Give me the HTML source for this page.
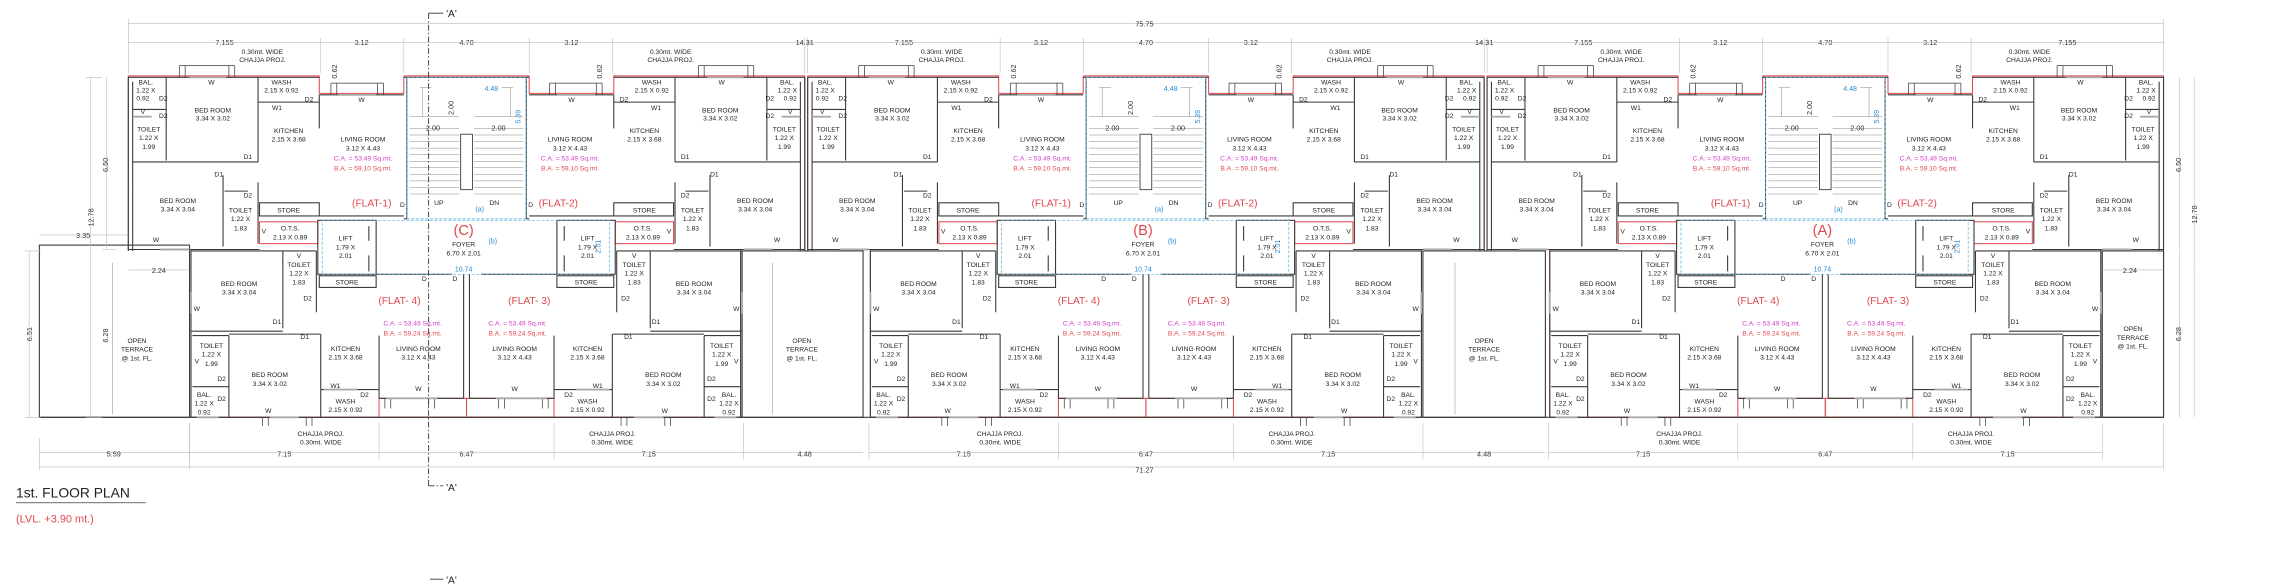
<!DOCTYPE html>
<html><head><meta charset="utf-8">
<style>
html,body{margin:0;padding:0;background:#fff;}
svg{display:block;}
text{font-family:"Liberation Sans",sans-serif;fill:#222;text-anchor:middle;}
.s{font-size:4.6px;}
.d{font-size:5px;fill:#333;}
.f{font-size:7px;fill:#e0474c;}
.m{font-size:4.6px;fill:#d43bc8;}
.r{font-size:4.6px;fill:#e0474c;}
.b{font-size:4.8px;fill:#2a8ad0;}
.w{stroke:#3a3a3a;stroke-width:0.75;fill:none;}
.red{stroke:#e0474c;stroke-width:0.7;fill:none;}
.dim{stroke:#bbb;stroke-width:0.4;fill:none;}
.bl{stroke:#5ab0e0;stroke-width:0.5;stroke-dasharray:2 1.2;fill:none;}
.thin{stroke:#888;stroke-width:0.35;fill:none;}
</style></head><body>
<svg width="2286" height="588" viewBox="0 0 1568 403" preserveAspectRatio="none" xmlns="http://www.w3.org/2000/svg">
<defs>
<g id="geomL">
  <path class="red" d="M0,52 H-43 M-43,52 V64 H-101 V52 H-232 V171 H-189 V286 H0"/>
  <rect class="red" x="-142" y="152" width="40" height="15"/>
  <rect class="red" x="-60" y="273" width="60" height="13"/>
  <path class="w" d="M-232,53 H-101 M-101,65 H-43 M-43,53 H0 M-229,56 V172 M-232,53 V172
    M-206,53 V110 M-229,75 H-206 M-229,111 H-143 M-143,53 V111 M-143,70 H-101 M-101,65 V88
    M-41,53 V150 M-167,120 V169 M-166,131 H-150 M-143,125 V167 M-232,171 H-142 M-101,148 H-43"/>
  <rect class="w" x="-142" y="139" width="41" height="9"/>
  <rect class="bl" x="-41" y="53" width="82" height="97"/>
  <path class="thin" d="M-39,88 H-5 M-39,92.5 H-5 M-39,97 H-5 M-39,101.5 H-5 M-39,106 H-5 M-39,110.5 H-5 M-39,115 H-5 M-39,119.5 H-5 M-39,124 H-5 M-39,128.5 H-5 M-39,133 H-5
    M-30,60 V80 M-39,80 H-5 M-24,60 H-32"/>
  <rect class="w" x="-4" y="92" width="8" height="38" style="stroke-width:0.5"/>
  <path class="w" d="M-197,45 V53 M-193,45 V53 M-163,45 V53 M-159,45 V53 M-197,45 H-159
    M-93,57 V65 M-89,57 V65 M-61,57 V65 M-57,57 V65 M-93,57 H-57" style="stroke-width:0.5"/>
  <rect class="w" x="-102" y="151" width="40" height="37"/>
  <path class="w" d="M-67,155 V165 M-67,175 V186"/>
  <rect class="w" x="-101" y="189" width="39" height="8"/>
  <path class="w" d="M-62,188 H-10 M-43,150 H-41"/>
  <path class="w" d="M-189,172 V286 M-189,286 H0 M-126,172 V225 M-103,172 V214 M-189,227 H-126
    M-188,230 H-163 M-163,230 V286 M-188,265 H-163 M-163,229 H-100 M-100,229 V286
    M-60,230 V273 M-100,267 H-60 M-60,273 H-2 M-2,188 V273 M-189,172 H-103"/>
  <path class="w" d="M-140,286 V292 M-136,286 V292 M-110,286 V292 M-106,286 V292
    M-56,273 V280 M-52,273 V280 M-26,273 V280 M-22,273 V280" style="stroke-width:0.5"/>
  <path d="M-190,53 H-165 M-88,65 H-62 M-229,80 H-216 M-210,171 H-190 M-185,286 H-170 M-135,286 H-115 M-98,267 H-75 M-55,273 H-20 M-189,200 V215" stroke="#aaa" stroke-width="1.3"/>
</g>
<g id="txtL">
  <text class="s" x="-220" y="58">BAL.</text><text class="s" x="-220" y="63.5">1.22 X</text><text class="s" x="-222" y="69">0.92</text>
  <text class="s" x="-208" y="69">D2</text><text class="s" x="-222" y="78">V</text><text class="s" x="-208" y="81">D2</text>
  <text class="s" x="-218" y="90">TOILET</text><text class="s" x="-218" y="96">1.22 X</text><text class="s" x="-218" y="102">1.99</text>
  <text class="s" x="-175" y="58">W</text>
  <text class="s" x="-174" y="77">BED ROOM</text><text class="s" x="-174" y="82.5">3.34 X 3.02</text>
  <text class="s" x="-150" y="109">D1</text>
  <text class="s" x="-127" y="58">WASH</text><text class="s" x="-127" y="63.5">2.15 X 0.92</text>
  <text class="s" x="-130" y="75.5">W1</text><text class="s" x="-108" y="69.5">D2</text>
  <text class="s" x="-122" y="91">KITCHEN</text><text class="s" x="-122" y="97">2.15 X 3.68</text>
  <text class="s" x="-72" y="70">W</text>
  <text class="s" x="-71" y="97">LIVING ROOM</text><text class="s" x="-71" y="103">3.12 X 4.43</text>
  <text class="m" x="-71" y="110">C.A. = 53.49 Sq.mt.</text>
  <text class="r" x="-71" y="117">B.A. = 59.10 Sq.mt.</text>
  <text class="s" x="-170" y="121">D1</text>
  <text class="s" x="-198" y="139">BED ROOM</text><text class="s" x="-198" y="145">3.34 X 3.04</text>
  <text class="s" x="-150" y="135.5">D2</text>
  <text class="s" x="-155" y="145.5">TOILET</text><text class="s" x="-155" y="151.5">1.22 X</text><text class="s" x="-155" y="158">1.83</text>
  <text class="s" x="-122" y="145.5">STORE</text>
  <text class="s" x="-44" y="142">D</text>
  <text class="s" x="-121" y="158">O.T.S.</text><text class="s" x="-121" y="164">2.13 X 0.89</text>
  <text class="s" x="-139" y="160">V</text>
  <text class="s" x="-213" y="166">W</text>
  <text class="s" x="-83" y="165">LIFT</text><text class="s" x="-83" y="171">1.79 X</text><text class="s" x="-83" y="177">2.01</text>
  <text class="s" x="-115" y="177">V</text>
  <text class="s" x="-115" y="183">TOILET</text><text class="s" x="-115" y="189">1.22 X</text><text class="s" x="-115" y="195">1.83</text>
  <text class="s" x="-109" y="206">D2</text>
  <text class="s" x="-156" y="196">BED ROOM</text><text class="s" x="-156" y="202">3.34 X 3.04</text>
  <text class="s" x="-185" y="213">W</text><text class="s" x="-130" y="222">D1</text><text class="s" x="-111" y="232.5">D1</text>
  <text class="s" x="-82" y="195">STORE</text>
  <text class="s" x="-29" y="192.5">D</text>
  <text class="s" x="-175" y="238.5">TOILET</text><text class="s" x="-175" y="244.5">1.22 X</text><text class="s" x="-175" y="251">1.99</text>
  <text class="s" x="-185" y="249">V</text><text class="s" x="-168" y="261">D2</text>
  <text class="s" x="-180" y="272">BAL.</text><text class="s" x="-180" y="278">1.22 X</text><text class="s" x="-180" y="284">0.92</text>
  <text class="s" x="-168" y="275">D2</text>
  <text class="s" x="-135" y="258.5">BED ROOM</text><text class="s" x="-135" y="264.5">3.34 X 3.02</text>
  <text class="s" x="-136" y="283">W</text>
  <text class="s" x="-83" y="240.5">KITCHEN</text><text class="s" x="-83" y="246.5">2.15 X 3.68</text>
  <text class="s" x="-90" y="266">W1</text><text class="s" x="-70" y="272">D2</text>
  <text class="s" x="-83" y="276.5">WASH</text><text class="s" x="-83" y="282.5">2.15 X 0.92</text>
  <text class="s" x="-33" y="240.5">LIVING ROOM</text><text class="s" x="-33" y="246.5">3.12 X 4.43</text>
  <text class="s" x="-33" y="268">W</text>
  <text class="m" x="-37" y="223">C.A. = 53.49 Sq.mt.</text>
  <text class="r" x="-37" y="230">B.A. = 59.24 Sq.mt.</text>
</g>
<g id="txtR">
  <text class="s" x="220" y="58">BAL.</text><text class="s" x="220" y="63.5">1.22 X</text><text class="s" x="222" y="69">0.92</text>
  <text class="s" x="208" y="69">D2</text><text class="s" x="222" y="78">V</text><text class="s" x="208" y="81">D2</text>
  <text class="s" x="218" y="90">TOILET</text><text class="s" x="218" y="96">1.22 X</text><text class="s" x="218" y="102">1.99</text>
  <text class="s" x="175" y="58">W</text>
  <text class="s" x="174" y="77">BED ROOM</text><text class="s" x="174" y="82.5">3.34 X 3.02</text>
  <text class="s" x="150" y="109">D1</text>
  <text class="s" x="127" y="58">WASH</text><text class="s" x="127" y="63.5">2.15 X 0.92</text>
  <text class="s" x="130" y="75.5">W1</text><text class="s" x="108" y="69.5">D2</text>
  <text class="s" x="122" y="91">KITCHEN</text><text class="s" x="122" y="97">2.15 X 3.68</text>
  <text class="s" x="72" y="70">W</text>
  <text class="s" x="71" y="97">LIVING ROOM</text><text class="s" x="71" y="103">3.12 X 4.43</text>
  <text class="m" x="71" y="110">C.A. = 53.49 Sq.mt.</text>
  <text class="r" x="71" y="117">B.A. = 59.10 Sq.mt.</text>
  <text class="s" x="170" y="121">D1</text>
  <text class="s" x="198" y="139">BED ROOM</text><text class="s" x="198" y="145">3.34 X 3.04</text>
  <text class="s" x="150" y="135.5">D2</text>
  <text class="s" x="155" y="145.5">TOILET</text><text class="s" x="155" y="151.5">1.22 X</text><text class="s" x="155" y="158">1.83</text>
  <text class="s" x="122" y="145.5">STORE</text>
  <text class="s" x="44" y="142">D</text>
  <text class="s" x="121" y="158">O.T.S.</text><text class="s" x="121" y="164">2.13 X 0.89</text>
  <text class="s" x="139" y="160">V</text>
  <text class="s" x="213" y="166">W</text>
  <text class="s" x="83" y="165">LIFT</text><text class="s" x="83" y="171">1.79 X</text><text class="s" x="83" y="177">2.01</text>
  <text class="s" x="115" y="177">V</text>
  <text class="s" x="115" y="183">TOILET</text><text class="s" x="115" y="189">1.22 X</text><text class="s" x="115" y="195">1.83</text>
  <text class="s" x="109" y="206">D2</text>
  <text class="s" x="156" y="196">BED ROOM</text><text class="s" x="156" y="202">3.34 X 3.04</text>
  <text class="s" x="185" y="213">W</text><text class="s" x="130" y="222">D1</text><text class="s" x="111" y="232.5">D1</text>
  <text class="s" x="82" y="195">STORE</text>
  <text class="s" x="-8" y="192.5">D</text>
  <text class="s" x="175" y="238.5">TOILET</text><text class="s" x="175" y="244.5">1.22 X</text><text class="s" x="175" y="251">1.99</text>
  <text class="s" x="185" y="249">V</text><text class="s" x="168" y="261">D2</text>
  <text class="s" x="180" y="272">BAL.</text><text class="s" x="180" y="278">1.22 X</text><text class="s" x="180" y="284">0.92</text>
  <text class="s" x="168" y="275">D2</text>
  <text class="s" x="135" y="258.5">BED ROOM</text><text class="s" x="135" y="264.5">3.34 X 3.02</text>
  <text class="s" x="136" y="283">W</text>
  <text class="s" x="83" y="240.5">KITCHEN</text><text class="s" x="83" y="246.5">2.15 X 3.68</text>
  <text class="s" x="90" y="266">W1</text><text class="s" x="70" y="272">D2</text>
  <text class="s" x="83" y="276.5">WASH</text><text class="s" x="83" y="282.5">2.15 X 0.92</text>
  <text class="s" x="33" y="240.5">LIVING ROOM</text><text class="s" x="33" y="246.5">3.12 X 4.43</text>
  <text class="s" x="33" y="268">W</text>
  <text class="m" x="35" y="223">C.A. = 53.49 Sq.mt.</text>
  <text class="r" x="35" y="230">B.A. = 59.24 Sq.mt.</text>
</g>
<g id="ctr">
  <rect class="bl" x="-99" y="151" width="197" height="37"/>
  <text class="f" x="-65" y="141.5">(FLAT-1)</text>
  <text class="f" x="63" y="141.5">(FLAT-2)</text>
  <text class="f" x="-46" y="208.5">(FLAT- 4)</text>
  <text class="f" x="43" y="208.5">(FLAT- 3)</text>
  <text class="s" x="-19" y="140.5">UP</text><text class="s" x="19" y="140.5">DN</text>
  <text class="b" x="9" y="145">(a)</text>
  <text class="s" x="-2" y="169">FOYER</text><text class="s" x="-2" y="175">6.70 X 2.01</text>
  <text class="b" x="18" y="167">(b)</text>
  <text class="b" x="-2" y="186">10.74</text>
  <text class="b" x="17" y="62.5">4.48</text>
  <text class="b" transform="translate(37,80) rotate(-90)">5.39</text>
  <text class="b" transform="translate(92,169) rotate(-90)">2.01</text>
  <text class="d" x="-23" y="89.5">2.00</text><text class="d" x="22" y="89.5">2.00</text>
  <text class="d" transform="translate(-9,74) rotate(-90)">2.00</text>
  <text class="d" transform="translate(-89,49) rotate(-90)">0.62</text>
  <text class="d" transform="translate(93,49) rotate(-90)">0.62</text>
  <text class="s" x="-140" y="37">0.30mt. WIDE</text><text class="s" x="-140" y="42.5">CHAJJA PROJ.</text>
  <text class="s" x="140" y="37">0.30mt. WIDE</text><text class="s" x="140" y="42.5">CHAJJA PROJ.</text>
  <text class="s" x="-100" y="299">CHAJJA PROJ.</text><text class="s" x="-100" y="304.5">0.30mt. WIDE</text>
  <text class="s" x="100" y="299">CHAJJA PROJ.</text><text class="s" x="100" y="304.5">0.30mt. WIDE</text>
  <text class="d" x="-166" y="31">7.155</text>
  <text class="d" x="-72" y="31">3.12</text>
  <text class="d" x="0" y="31">4.70</text>
  <text class="d" x="72" y="31">3.12</text>
  <text class="d" x="-125" y="313">7.15</text>
  <text class="d" x="0" y="313">6.47</text>
  <text class="d" x="125" y="313">7.15</text>
  <path class="dim" d="M-232,29 H232 M-232,26 V50 M-100,26 V50 M-43,26 V50 M43,26 V50 M100,26 V50 M232,26 V50 M-190,310 H190 M-190,290 V315 M-60,290 V315 M60,290 V315 M190,290 V315"/>
</g>
<g id="blk">
  <use href="#geomL"/>
  <use href="#geomL" transform="scale(-1,1)"/>
  <use href="#ctr"/>
  <use href="#txtL"/>
  <use href="#txtR"/>
</g>
</defs>

<rect x="27" y="168" width="103" height="118" class="w"/>
<rect x="508" y="172" width="84" height="114" class="w"/>
<rect x="976" y="172" width="84" height="114" class="w"/>
<rect x="1442" y="172" width="42" height="114" class="w"/>
<path class="w" d="M27,286 H1484 M1484,172 V286"/>
<path class="thin" d="M77,180 V284 M530,180 V284 M998,180 V284"/>

<use href="#blk" transform="translate(320,0)"/>
<use href="#blk" transform="translate(786,0)"/>
<use href="#blk" transform="translate(1252,0)"/>

<text class="f" style="font-size:10px" x="318" y="161">(C)</text>
<text class="f" style="font-size:10px" x="784" y="161">(B)</text>
<text class="f" style="font-size:10px" x="1250" y="161">(A)</text>

<text class="s" x="94" y="235">OPEN</text><text class="s" x="94" y="241">TERRACE</text><text class="s" x="94" y="247">@ 1st. FL.</text>
<text class="s" x="550" y="235">OPEN</text><text class="s" x="550" y="241">TERRACE</text><text class="s" x="550" y="247">@ 1st. FL.</text>
<text class="s" x="1018" y="235">OPEN</text><text class="s" x="1018" y="241">TERRACE</text><text class="s" x="1018" y="247">@ 1st. FL.</text>
<text class="s" x="1463" y="227">OPEN</text><text class="s" x="1463" y="233">TERRACE</text><text class="s" x="1463" y="239">@ 1st. FL.</text>

<path class="dim" d="M88,16 H1484 M88,13 V30 M1484,13 V30 M27,320 H1484 M27,300 V322 M130,290 V322 M1484,290 V322 M27,310 H130 M508,310 H592 M976,310 H1060
 M62,53 V286 M59,53 H70 M59,286 H70 M73,53 V171 M70,171 H80 M20,172 V286 M17,172 H28 M17,286 H28 M27,161 H88 M88,185 H130
 M1505,53 V286 M1495,53 V171 M1495,172 V286 M1442,185 H1484"/>
<text class="d" x="785" y="18">75.75</text>
<text class="d" x="552" y="31">14.31</text>
<text class="d" x="1018" y="31">14.31</text>
<text class="d" x="1418" y="31">7.155</text>
<text class="d" x="78" y="313">5.59</text>
<text class="d" x="552" y="313">4.48</text>
<text class="d" x="1018" y="313">4.48</text>
<text class="d" x="785" y="324">71.27</text>
<text class="d" x="57" y="163">3.35</text>
<text class="d" x="109" y="187">2.24</text>
<text class="d" x="1461" y="187">2.24</text>
<text class="d" transform="translate(74,113) rotate(-90)">6.50</text>
<text class="d" transform="translate(64,149) rotate(-90)">12.78</text>
<text class="d" transform="translate(22,229) rotate(-90)">6.51</text>
<text class="d" transform="translate(74,230) rotate(-90)">6.28</text>
<text class="d" transform="translate(1496,113) rotate(-90)">6.50</text>
<text class="d" transform="translate(1507,147) rotate(-90)">12.78</text>
<text class="d" transform="translate(1496,229) rotate(-90)">6.28</text>

<path d="M294,9 V333 M294,333 H304" stroke="#333" stroke-width="0.6" stroke-dasharray="4 1.5 1 1.5" fill="none"/>
<path d="M294,9 H304 M295,397 H304" stroke="#333" stroke-width="0.6" fill="none"/>
<text style="font-size:7px;text-anchor:start" x="306" y="11.5">'A'</text>
<text style="font-size:7px;text-anchor:start" x="306" y="336.5">'A'</text>
<text style="font-size:7px;text-anchor:start" x="306" y="400">'A'</text>

<text style="font-size:9.5px;text-anchor:start;fill:#222" x="11" y="341">1st.  FLOOR PLAN</text>
<path d="M11,344.5 H100" stroke="#888" stroke-width="0.8"/>
<text style="font-size:7.5px;text-anchor:start;fill:#e0474c" x="11" y="358">(LVL. +3.90 mt.)</text>
</svg>
</body></html>
